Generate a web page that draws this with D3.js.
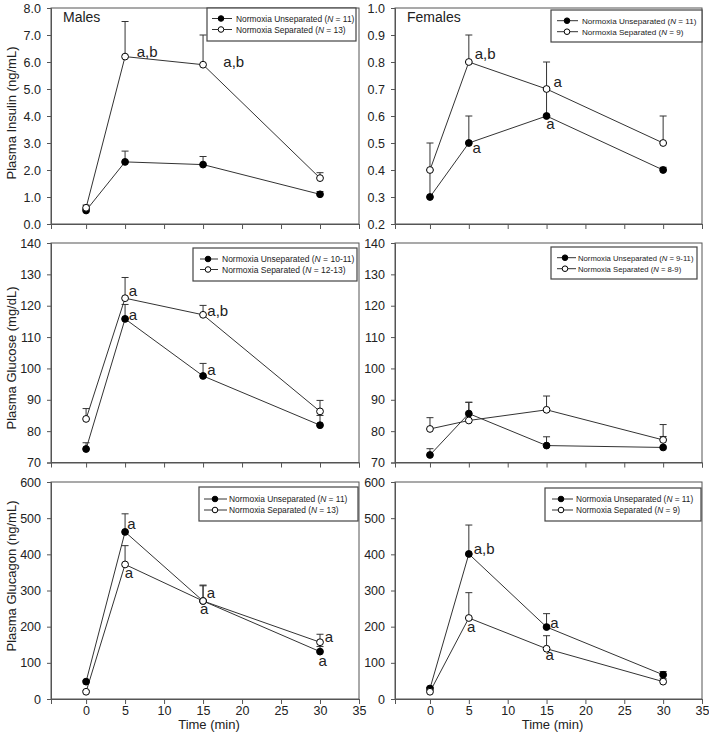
<!DOCTYPE html>
<html><head><meta charset="utf-8">
<script src="https://cdn.jsdelivr.net/npm/d3@7"></script>
<style>
body{margin:0;background:#fff;}
svg{display:block;font-family:Arial,"Liberation Sans",sans-serif;}
</style></head>
<body><svg id="c" width="709" height="738"></svg>
<script>
// ---------- DATA ----------
const times = [0, 5, 15, 30];
const xTicks = [0, 5, 10, 15, 20, 25, 30, 35];
const seriesNames = ["Normoxia Unseparated", "Normoxia Separated"];

const insulinTicks = [0, 1, 2, 3, 4, 5, 6, 7, 8];
const insulinFTicks = [0.2, 0.3, 0.4, 0.5, 0.6, 0.7, 0.8, 0.9, 1.0];
const glucoseTicks = [70, 80, 90, 100, 110, 120, 130, 140];
const glucagonTicks = [0, 100, 200, 300, 400, 500, 600];

const insulinMUnsep = [0.5, 2.3, 2.2, 1.1];
const insulinMUnsepErr = [0.05, 0.4, 0.3, 0.1];
const insulinMSep = [0.6, 6.2, 5.9, 1.7];
const insulinMSepErr = [0.1, 1.3, 1.1, 0.2];

const insulinFUnsep = [0.3, 0.5, 0.6, 0.4];
const insulinFUnsepErr = [0.1, 0.1, 0.1, 0.01];
const insulinFSep = [0.4, 0.8, 0.7, 0.5];
const insulinFSepErr = [0.1, 0.1, 0.1, 0.1];

const glucoseMUnsep = [74.3, 115.8, 97.6, 81.9];
const glucoseMUnsepErr = [2.0, 4.6, 4.0, 3.1];
const glucoseMSep = [83.9, 122.4, 117.1, 86.3];
const glucoseMSepErr = [3.3, 6.6, 3.0, 3.5];

const glucoseFUnsep = [72.4, 85.6, 75.4, 74.8];
const glucoseFUnsepErr = [2.0, 3.6, 2.8, 3.5];
const glucoseFSep = [80.7, 83.4, 86.8, 77.2];
const glucoseFSepErr = [3.6, 5.8, 4.4, 4.9];

const glucagonMUnsep = [48, 462, 271, 131];
const glucagonMUnsepErr = [3, 50, 44, 14];
const glucagonMSep = [20, 372, 271, 157];
const glucagonMSepErr = [3, 52, 42, 22];

const glucagonFUnsep = [29, 401, 199, 67];
const glucagonFUnsepErr = [3, 80, 37, 9];
const glucagonFSep = [20, 224, 139, 48];
const glucagonFSepErr = [3, 70, 36, 8];

// significance labels: [time, value, label]
const annInsulinM = [[6.5, 6.19, "a,b"], [17.6, 5.81, "a,b"]];
const annInsulinF = [[5.76, 0.811, "a,b"], [15.9, 0.707, "a"], [14.95, 0.552, "a"], [5.46, 0.463, "a"]];
const annGlucoseM = [[5.46, 123.1, "a"], [5.46, 115.4, "a"], [15.55, 116.7, "a,b"], [15.55, 97.9, "a"]];
const annGlucoseF = [];
const annGlucagonM = [[5.28, 469, "a"], [4.95, 334, "a"], [15.47, 279, "a"], [14.6, 234, "a"], [30.6, 157, "a"], [29.8, 92, "a"]];
const annGlucagonF = [[5.63, 402, "a,b"], [4.77, 184, "a"], [15.47, 197, "a"], [14.86, 107, "a"]];

// ---------- LAYOUT ----------
const svg = d3.select("#c");
const LC = "#333";
const panels = [
  {x0:51, x1:359, y0:8, y1:224, dom:[0,8], ticks:insulinTicks, fmt:d3.format(".1f"),
   s:[insulinMUnsep, insulinMSep], e:[insulinMUnsepErr, insulinMSepErr], ann:annInsulinM,
   ylab:"Plasma Insulin (ng/mL)", ylabY:113, title:"Males", ns:["11","13"],
   leg:{x0:207,y0:8,x1:356,y1:41,l0:212,l1:232,m:221,t:236,r:[18.5,29.5],fs:8.4}, xlab:false},
  {x0:395, x1:702, y0:8, y1:224, dom:[0.2,1.0], ticks:insulinFTicks, fmt:d3.format(".1f"),
   s:[insulinFUnsep, insulinFSep], e:[insulinFUnsepErr, insulinFSepErr], ann:annInsulinF,
   ylab:null, title:"Females", ns:["11","9"],
   leg:{x0:551,y0:10,x1:702,y1:42,l0:557,l1:578,m:567,t:582,r:[20.7,31.7],fs:8.1}, xlab:false},
  {x0:51, x1:359, y0:243, y1:462.5, dom:[70,140], ticks:glucoseTicks, fmt:d3.format("d"),
   s:[glucoseMUnsep, glucoseMSep], e:[glucoseMUnsepErr, glucoseMSepErr], ann:annGlucoseM,
   ylab:"Plasma Glucose (mg/dL)", ylabY:358, title:null, ns:["10-11","12-13"],
   leg:{x0:193,y0:248,x1:357,y1:281,l0:200,l1:218,m:208,t:222,r:[259,269.5],fs:8.5}, xlab:false},
  {x0:395, x1:702, y0:243, y1:462.5, dom:[70,140], ticks:glucoseTicks, fmt:d3.format("d"),
   s:[glucoseFUnsep, glucoseFSep], e:[glucoseFUnsepErr, glucoseFSepErr], ann:annGlucoseF,
   ylab:null, title:null, ns:["9-11","8-9"],
   leg:{x0:551,y0:247,x1:697,y1:279,l0:557,l1:576,m:565,t:578,r:[257.7,268.7],fs:7.7}, xlab:false},
  {x0:51, x1:359, y0:482, y1:699, dom:[0,600], ticks:glucagonTicks, fmt:d3.format("d"),
   s:[glucagonMUnsep, glucagonMSep], e:[glucagonMUnsepErr, glucagonMSepErr], ann:annGlucagonM,
   ylab:"Plasma Glucagon (ng/mL)", ylabY:576, title:null, ns:["11","13"],
   leg:{x0:199,y0:487,x1:358,y1:521,l0:204,l1:227,m:215,t:229,r:[499,510],fs:8.4}, xlab:true},
  {x0:395, x1:702, y0:482, y1:699, dom:[0,600], ticks:glucagonTicks, fmt:d3.format("d"),
   s:[glucagonFUnsep, glucagonFSep], e:[glucagonFUnsepErr, glucagonFSepErr], ann:annGlucagonF,
   ylab:null, title:null, ns:["11","9"],
   leg:{x0:545,y0:488,x1:701,y1:521,l0:552,l1:573,m:561,t:576,r:[499,510],fs:8.3}, xlab:true}
];

panels.forEach(p => {
  const g = svg.append("g");
  const x = d3.scaleLinear().domain([-4.5, 35]).range([p.x0, p.x1]);
  const y = d3.scaleLinear().domain(p.dom).range([p.y1, p.y0]);

  // frame
  g.append("rect").attr("x", p.x0).attr("y", p.y0).attr("width", p.x1 - p.x0).attr("height", p.y1 - p.y0)
    .attr("fill", "none").attr("stroke", "#555").attr("stroke-width", 1);

  // y axis
  const ya = g.append("g").attr("transform", `translate(${p.x0},0)`)
    .call(d3.axisLeft(y).tickValues(p.ticks).tickFormat(p.fmt).tickSize(4).tickPadding(6));
  ya.select(".domain").attr("stroke", "#555");
  ya.selectAll(".tick line").attr("stroke", "#555");
  ya.selectAll("text").attr("font-size", 12.5).attr("fill", "#222").attr("font-family", "Arial, Liberation Sans");

  // x axis
  const xa = g.append("g").attr("transform", `translate(0,${p.y1})`)
    .call(d3.axisBottom(x).tickValues(xTicks).tickSize(5).tickPadding(2).tickFormat(p.xlab ? d3.format("d") : ""));
  xa.select(".domain").attr("stroke", "#555");
  xa.selectAll(".tick line").attr("stroke", "#555");
  xa.selectAll("text").attr("font-size", 12.5).attr("fill", "#222").attr("font-family", "Arial, Liberation Sans");

  if (p.xlab) {
    g.append("text").attr("x", (p.x0 + p.x1) / 2 + 4).attr("y", 729).attr("text-anchor", "middle")
      .attr("font-size", 13).attr("fill", "#222").text("Time (min)");
  }
  if (p.ylab) {
    g.append("text").attr("transform", `translate(16,${p.ylabY}) rotate(-90)`)
      .attr("text-anchor", "middle").attr("font-size", 13).attr("fill", "#222").text(p.ylab);
  }
  if (p.title) {
    g.append("text").attr("x", p.x0 + 12).attr("y", 22).attr("font-size", 14).attr("fill", "#222").text(p.title);
  }

  const line = d3.line().x((d, i) => x(times[i])).y(d => y(d));
  // lines
  p.s.forEach(vals => {
    g.append("path").datum(vals).attr("d", line).attr("fill", "none").attr("stroke", LC).attr("stroke-width", 1);
  });
  // error bars (upper)
  p.s.forEach((vals, si) => {
    vals.forEach((v, i) => {
      const top = v + p.e[si][i];
      const cx = x(times[i]);
      g.append("line").attr("x1", cx).attr("x2", cx).attr("y1", y(v)).attr("y2", y(top)).attr("stroke", LC);
      g.append("line").attr("x1", cx - 3.5).attr("x2", cx + 3.5).attr("y1", y(top)).attr("y2", y(top)).attr("stroke", LC);
    });
  });
  // markers
  p.s.forEach((vals, si) => {
    g.selectAll(null).data(vals).enter().append("circle")
      .attr("cx", (d, i) => x(times[i])).attr("cy", d => y(d)).attr("r", 3.4)
      .attr("fill", si === 0 ? "#000" : "#fff").attr("stroke", "#000").attr("stroke-width", 1);
  });
  // annotations
  g.selectAll(null).data(p.ann).enter().append("text")
    .attr("x", d => x(d[0])).attr("y", d => y(d[1])).attr("font-size", 15).attr("fill", "#222").text(d => d[2]);

  // legend
  const L = p.leg;
  g.append("rect").attr("x", L.x0).attr("y", L.y0).attr("width", L.x1 - L.x0).attr("height", L.y1 - L.y0)
    .attr("fill", "#fff").attr("stroke", "#444").attr("stroke-width", 1.2);
  seriesNames.forEach((nm, si) => {
    const ry = L.r[si];
    g.append("line").attr("x1", L.l0).attr("x2", L.l1).attr("y1", ry).attr("y2", ry).attr("stroke", LC);
    g.append("circle").attr("cx", L.m).attr("cy", ry).attr("r", 2.8)
      .attr("fill", si === 0 ? "#000" : "#fff").attr("stroke", "#000");
    const t = g.append("text").attr("x", L.t).attr("y", ry + 3).attr("font-size", L.fs).attr("fill", "#222");
    t.append("tspan").text(nm + " (");
    t.append("tspan").attr("font-style", "italic").text("N");
    t.append("tspan").text(" = " + p.ns[si] + ")");
  });
});
</script></body></html>
